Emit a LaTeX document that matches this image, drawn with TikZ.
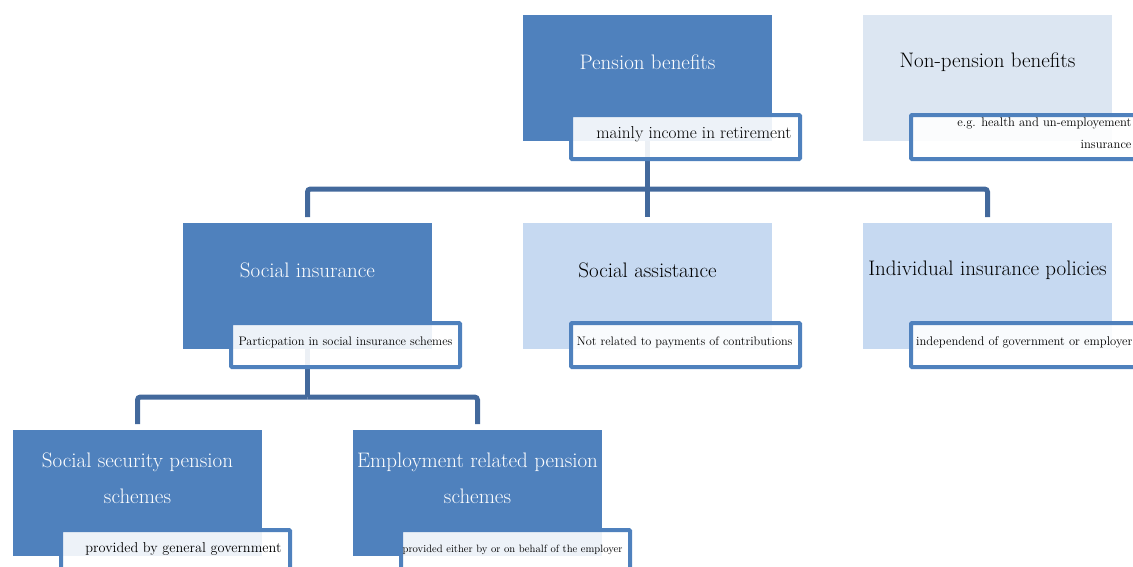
\documentclass[tikz,border=0pt]{standalone}
\usepackage{fontspec}
\usepackage{tikz}
\usetikzlibrary{calc}
\usepackage{xcolor}

\definecolor{boxdark}{HTML}{4F81BD}
\definecolor{boxlight}{HTML}{C6D9F1}
\definecolor{boxpale}{HTML}{DCE6F2}
\definecolor{linkblue}{HTML}{43699C}

\tikzset{
  mainbox/.style={rectangle, minimum width=249pt, minimum height=126pt, inner sep=0pt, outer sep=0pt, anchor=north west},
  darkbox/.style={mainbox, fill=boxdark},
  lightbox/.style={mainbox, fill=boxlight},
  palebox/.style={mainbox, fill=boxpale},
  subbox/.style={rectangle, draw=boxdark, line width=4pt, fill=white, fill opacity=0.9, minimum width=229pt, minimum height=44pt, inner sep=0pt, outer sep=0pt, anchor=north west, rounded corners=1pt},
  maintext/.style={font=\fontsize{21}{36}\selectfont, align=center},
  subtext/.style={anchor=base east, text=black},
  conn/.style={draw=linkblue, line width=5pt},
}

\begin{document}
\begin{tikzpicture}[x=1pt, y=-1pt]
  \useasboundingbox (0,0) rectangle (1133,566);
  \clip (0,0) rectangle (1133,566);

  % Top row
  \node[darkbox] (pens) at (523,15) {};
  \node[palebox] (nonpens) at (863,15) {};

  % Second row
  \node[darkbox] (socins) at (183,223) {};
  \node[lightbox] (socass) at (523,223) {};
  \node[lightbox] (indiv) at (863,223) {};

  % Third row
  \node[darkbox] (secur) at (13,430) {};
  \node[darkbox] (employ) at (353,430) {};

  % Connectors (drawn below the sub boxes)
  \draw[conn] (pens.south) -- ($(pens.south)+(0,48)$) coordinate (pens-j);
  \foreach \c in {socins,socass,indiv} {
    \draw[conn, rounded corners=3pt] (pens-j) -| ([yshift=6pt]\c.north);
  }
  \draw[conn] (socins.south) -- ($(socins.south)+(0,48)$) coordinate (socins-j);
  \foreach \c in {secur,employ} {
    \draw[conn, rounded corners=3pt] (socins-j) -| ([yshift=6pt]\c.north);
  }

  % Main labels
  \node[maintext, text=white] (pens-t) at ($(pens.north)+(0,47)$) {Pension benefits};
  \node[maintext, text=black] (nonpens-t) at ($(nonpens.north)+(0,47)$) {Non-pension benefits};
  \node[maintext, text=white] (socins-t) at ($(socins.north)+(0,47)$) {Social insurance};
  \node[maintext, text=black] (socass-t) at ($(socass.north)+(0,47)$) {Social assistance};
  \node[maintext, text=black] (indiv-t) at ($(indiv.north)+(0,47)$) {Individual insurance policies};
  \node[maintext, text=white] (secur-t) at ($(secur.north)+(0,48)$) {Social security pension\\schemes};
  \node[maintext, text=white] (employ-t) at ($(employ.north)+(0,48)$) {Employment related pension\\schemes};

  % Sub boxes
  \foreach \b in {pens,nonpens,socins,socass,indiv,secur,employ} {
    \node[subbox] (\b-s) at ($(\b.south west)+(48,-26)$) {};
  }

  % Sub box texts
  \node[subtext, font=\fontsize{17.2}{20}\selectfont] (pens-d) at ($(pens-s.north east)+(-5,23)$) {mainly income in retirement};
  \node[anchor=east, align=right, font=\fontsize{12.6}{22}\selectfont] (nonpens-d) at ($(nonpens-s.north east)+(-5,18)$) {e.g. health and un-employement\\insurance};
  \node[subtext, font=\fontsize{12.4}{15}\selectfont] (socins-d) at ($(socins-s.north east)+(-4,22)$) {Particpation in social insurance schemes};
  \node[subtext, font=\fontsize{12.3}{15}\selectfont] (socass-d) at ($(socass-s.north east)+(-4,22)$) {Not related to payments of contributions};
  \node[subtext, font=\fontsize{12.6}{15}\selectfont] (indiv-d) at ($(indiv-s.north east)+(-4,22)$) {independend of government or employer};
  \node[subtext, font=\fontsize{14.3}{17}\selectfont] (secur-d) at ($(secur-s.north east)+(-5,22)$) {provided by general government};
  \node[subtext, font=\fontsize{10.6}{13}\selectfont] (employ-d) at ($(employ-s.north east)+(-4,22)$) {provided either by or on behalf of the employer};

\end{tikzpicture}
\end{document}
